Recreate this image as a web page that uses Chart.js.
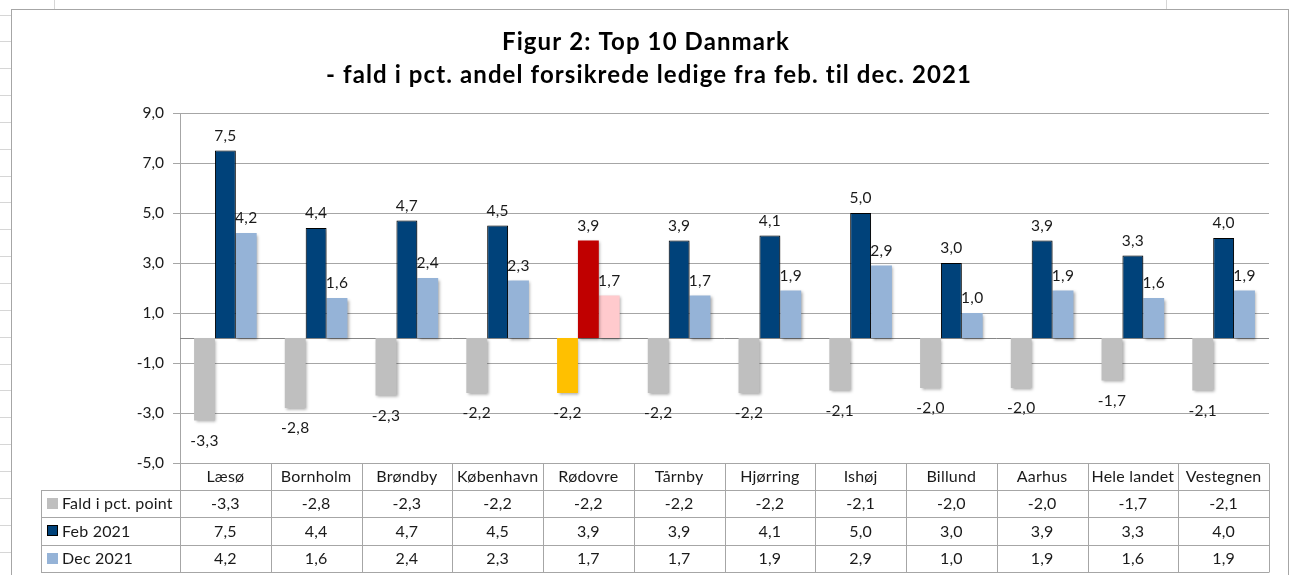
<!DOCTYPE html>
<html>
<head>
<meta charset="utf-8">
<script src="https://cdn.jsdelivr.net/npm/chart.js@4/dist/chart.umd.min.js"></script>
<style>
  html, body { margin: 0; padding: 0; background: #fff; }
  #wrap { width: 1290px; height: 575px; }
</style>
</head>
<body>
<div id="wrap"><canvas id="chart" width="1290" height="575"></canvas></div>
<script>
// Data
const categories = ['Læsø', 'Bornholm', 'Brøndby', 'København', 'Rødovre', 'Tårnby', 'Hjørring', 'Ishøj', 'Billund', 'Aarhus', 'Hele landet', 'Vestegnen'];
const faldValues = [-3.3, -2.8, -2.3, -2.2, -2.2, -2.2, -2.2, -2.1, -2.0, -2.0, -1.7, -2.1];
const febValues = [7.5, 4.4, 4.7, 4.5, 3.9, 3.9, 4.1, 5.0, 3.0, 3.9, 3.3, 4.0];
const decValues = [4.2, 1.6, 2.4, 2.3, 1.7, 1.7, 1.9, 2.9, 1.0, 1.9, 1.6, 1.9];
const seriesNames = ['Fald i pct. point', 'Feb 2021', 'Dec 2021'];
const titleLines = ['Figur 2: Top 10 Danmark', '- fald i pct. andel forsikrede ledige fra feb. til dec. 2021'];
const yMin = -5, yMax = 9, yStep = 2;

const highlight = categories.indexOf('Rødovre');
const fmt = v => v.toFixed(1).replace('.', ',');
const FONT = 'Lato, "Open Sans", sans-serif';

function pick(normal, special) {
    return categories.map((c, i) => i === highlight ? special : normal);
}

// Excel style frame, title, zero line, value labels and the data table
const excelPlugin = {
    id: 'excel',
    beforeDraw(chart) {
        const ctx = chart.ctx;
        ctx.save();
        ctx.fillStyle = '#fff';
        ctx.fillRect(0, 0, chart.width, chart.height);
        // spreadsheet cell lines outside the chart object
        ctx.strokeStyle = '#d6d6d6';
        ctx.lineWidth = 1;
        for (let y = 14.5; y < chart.height; y += 26.85) {
            const yy = Math.round(y) + 0.5;
            ctx.beginPath(); ctx.moveTo(0, yy); ctx.lineTo(11, yy); ctx.stroke();
        }
        [54.5, 1166.5].forEach(x => {
            ctx.beginPath(); ctx.moveTo(x, 0); ctx.lineTo(x, 9); ctx.stroke();
        });
        // chart object border
        ctx.strokeStyle = '#a6a6a6';
        ctx.strokeRect(11.5, 9.5, 1277, 600);
        // title
        ctx.fillStyle = '#000';
        ctx.font = 'bold 24px ' + FONT;
        ctx.letterSpacing = '1.1px';
        ctx.textAlign = 'center';
        ctx.textBaseline = 'middle';
        ctx.fillText(titleLines[0], 646, 42);
        ctx.fillText(titleLines[1], 649, 75);
        ctx.restore();
    },
    beforeDatasetsDraw(chart) {
        const ctx = chart.ctx, area = chart.chartArea;
        const y0 = Math.round(chart.scales.y.getPixelForValue(0)) + 0.5;
        ctx.save();
        ctx.strokeStyle = '#868686';
        ctx.lineWidth = 1;
        ctx.beginPath(); ctx.moveTo(area.left, y0); ctx.lineTo(area.right, y0); ctx.stroke();
        ctx.restore();
    },
    beforeDatasetDraw(chart) {
        const ctx = chart.ctx;
        ctx.save();
        ctx.shadowColor = 'rgba(0,0,0,0.35)';
        ctx.shadowBlur = 3;
        ctx.shadowOffsetX = 1.5;
        ctx.shadowOffsetY = 1.5;
    },
    afterDatasetDraw(chart) {
        chart.ctx.restore();
    },
    afterDatasetsDraw(chart) {
        const ctx = chart.ctx;
        ctx.save();
        ctx.font = '15.5px ' + FONT;
        ctx.letterSpacing = '0.3px';
        ctx.fillStyle = '#1a1a1a';
        ctx.textAlign = 'center';
        ctx.textBaseline = 'middle';
        chart.data.datasets.forEach((ds, di) => {
            chart.getDatasetMeta(di).data.forEach((bar, i) => {
                const v = ds.data[i];
                const y = v >= 0 ? bar.y - 15 : bar.y + 20;
                ctx.fillText(fmt(v), bar.x, y);
            });
        });
        ctx.restore();
    },
    afterDraw(chart) {
        const ctx = chart.ctx, area = chart.chartArea;
        const n = categories.length;
        const w = area.width / n;
        const top = area.bottom;
        const headH = 27;
        const rowH = 27.3;
        const tableLeft = 41;
        const rowsY = [top + headH, top + headH + rowH, top + headH + 2 * rowH, top + headH + 3 * rowH];
        const px = v => Math.round(v) + 0.5;
        ctx.save();
        ctx.strokeStyle = '#a6a6a6';
        ctx.lineWidth = 1;
        // horizontal lines
        rowsY.forEach(y => {
            ctx.beginPath(); ctx.moveTo(tableLeft, px(y)); ctx.lineTo(area.right, px(y)); ctx.stroke();
        });
        // vertical lines
        ctx.beginPath(); ctx.moveTo(px(tableLeft), px(rowsY[0])); ctx.lineTo(px(tableLeft), px(rowsY[3])); ctx.stroke();
        for (let k = 0; k <= n; k++) {
            const x = px(area.left + k * w);
            ctx.beginPath(); ctx.moveTo(x, px(top)); ctx.lineTo(x, px(rowsY[3])); ctx.stroke();
        }
        // texts
        ctx.font = '16px ' + FONT;
        ctx.letterSpacing = '0.2px';
        ctx.fillStyle = '#1a1a1a';
        ctx.textAlign = 'center';
        ctx.textBaseline = 'middle';
        const xs = chart.scales.x;
        categories.forEach((c, i) => {
            const cx = xs.getPixelForValue(i);
            ctx.fillText(c, cx, top + headH / 2 + 0.5);
            chart.data.datasets.forEach((ds, di) => {
                ctx.fillText(fmt(ds.data[i]), cx, rowsY[di] + rowH / 2 + 0.5);
            });
        });
        // legend keys
        ctx.textAlign = 'left';
        chart.data.datasets.forEach((ds, di) => {
            const cy = rowsY[di] + rowH / 2;
            ctx.fillStyle = ds.keyColor;
            ctx.fillRect(47, Math.round(cy - 5.5), 11, 11);
            if (di === 1) {
                ctx.strokeStyle = '#000';
                ctx.strokeRect(47.5, Math.round(cy - 5.5) + 0.5, 10, 10);
            }
            ctx.fillStyle = '#1a1a1a';
            ctx.fillText(seriesNames[di], 62, cy + 0.5);
        });
        ctx.restore();
    }
};

new Chart(document.getElementById('chart'), {
    type: 'bar',
    data: {
        labels: categories,
        datasets: [
            {
                label: seriesNames[0],
                data: faldValues,
                backgroundColor: pick('#bfbfbf', '#ffc000'),
                keyColor: '#bfbfbf',
                borderWidth: 0
            },
            {
                label: seriesNames[1],
                data: febValues,
                backgroundColor: pick('#00427a', '#c00000'),
                borderColor: '#000',
                borderWidth: pick(1, 0),
                keyColor: '#00427a'
            },
            {
                label: seriesNames[2],
                data: decValues,
                backgroundColor: pick('#95b3d7', '#ffcacd'),
                keyColor: '#95b3d7',
                borderWidth: 0
            }
        ]
    },
    options: {
        responsive: false,
        animation: false,
        events: [],
        categoryPercentage: 0.69,
        barPercentage: 1.0,
        layout: { padding: { left: 11, top: 113, right: 21, bottom: 112 } },
        plugins: {
            legend: { display: false },
            tooltip: { enabled: false },
            title: { display: false }
        },
        scales: {
            x: { display: false },
            y: {
                min: yMin,
                max: yMax,
                afterFit(scale) { scale.width = 169; },
                ticks: {
                    stepSize: yStep,
                    padding: 9,
                    color: '#1a1a1a',
                    font: { family: FONT, size: 15.5 },
                    callback: v => fmt(v)
                },
                grid: { color: '#a6a6a6', tickLength: 7 },
                border: { color: '#a6a6a6' }
            }
        }
    },
    plugins: [excelPlugin]
});
</script>
</body>
</html>
